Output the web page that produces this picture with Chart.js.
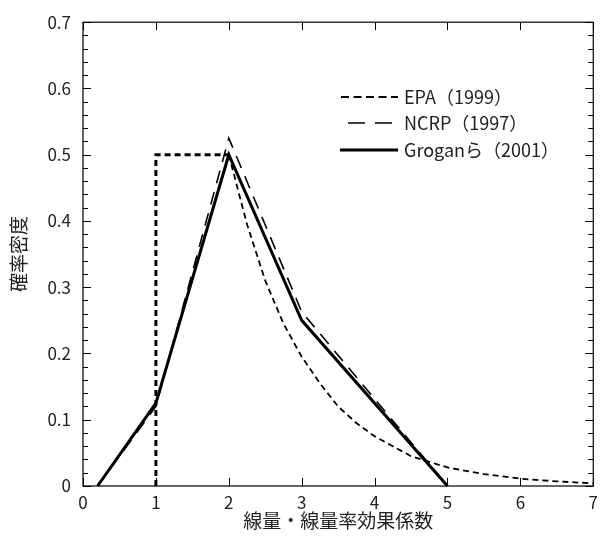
<!DOCTYPE html>
<html lang="ja">
<head>
<meta charset="utf-8">
<script src="https://cdn.jsdelivr.net/npm/chart.js"></script>
<style>
  html, body { margin: 0; padding: 0; background: #fff; }
  #wrap { width: 604px; height: 536px; }
</style>
</head>
<body>
<div id="wrap"><canvas id="pdfChart" width="604" height="536"></canvas></div>
<script>
// values
const epaX = [1, 1, 2, 2.25, 2.5, 2.75, 3, 3.25, 3.5, 3.75, 4, 4.5, 5, 5.5, 6, 6.5, 7];
const epaY = [0, 0.5, 0.5, 0.395, 0.31, 0.245, 0.195, 0.155, 0.12, 0.095, 0.075, 0.045, 0.028, 0.018, 0.011, 0.007, 0.004];
const ncrpX = [0.2, 1, 2, 3, 5];
const ncrpY = [0, 0.12, 0.525, 0.263, 0];
const groganX = [0.2, 1, 2, 3, 5];
const groganY = [0, 0.125, 0.5, 0.25, 0];
const seriesLabels = ['EPA（1999）', 'NCRP（1997）', 'Groganら（2001）'];
const xTicks = [0, 1, 2, 3, 4, 5, 6, 7];
const yTicks = [0, 0.1, 0.2, 0.3, 0.4, 0.5, 0.6, 0.7];

const FONT = "'Noto Sans CJK JP', 'Noto Sans', sans-serif";
const TXT = '#222';

function pts(xs, ys) {
  return xs.map((x, i) => ({ x: x, y: ys[i] }));
}

// inward ticks on all four sides + frame
const frameTicks = {
  id: 'frameTicks',
  afterDatasetsDraw(chart) {
    const { ctx, chartArea: a, scales: { x, y } } = chart;
    ctx.save();
    ctx.strokeStyle = '#000';
    ctx.lineWidth = 1.2;
    ctx.strokeRect(a.left, a.top, a.right - a.left, a.bottom - a.top);
    ctx.lineWidth = 1;
    ctx.beginPath();
    xTicks.forEach(v => {
      const px = Math.round(x.getPixelForValue(v)) + 0.5;
      ctx.moveTo(px, a.bottom); ctx.lineTo(px, a.bottom - 8);
      ctx.moveTo(px, a.top); ctx.lineTo(px, a.top + 8);
    });
    for (let i = 0; i <= 35; i++) {
      const v = i * 0.02;
      const len = i % 5 === 0 ? 8 : 5;
      const py = Math.round(y.getPixelForValue(v)) + 0.5;
      ctx.moveTo(a.left, py); ctx.lineTo(a.left + len, py);
      ctx.moveTo(a.right, py); ctx.lineTo(a.right - len, py);
    }
    ctx.stroke();
    ctx.restore();
  }
};

// legend drawn inside the plot
const innerLegend = {
  id: 'innerLegend',
  afterDraw(chart) {
    const { ctx } = chart;
    const rows = [
      { y: 97, dash: [8, 4.5], w: 1.8, x0: 341, x1: 398 },
      { y: 123, dash: [17, 10], w: 1.6, x0: 348, x1: 392 },
      { y: 150, dash: [], w: 3, x0: 340, x1: 398 }
    ];
    ctx.save();
    rows.forEach((r, i) => {
      ctx.strokeStyle = '#000';
      ctx.lineWidth = r.w;
      ctx.setLineDash(r.dash);
      ctx.beginPath();
      ctx.moveTo(r.x0, r.y); ctx.lineTo(r.x1, r.y);
      ctx.stroke();
      ctx.setLineDash([]);
      ctx.fillStyle = TXT;
      ctx.font = '18px ' + FONT;
      ctx.textBaseline = 'middle';
      ctx.fillText(seriesLabels[i], 404, r.y);
    });
    ctx.restore();
  }
};

new Chart(document.getElementById('pdfChart'), {
  type: 'line',
  data: {
    datasets: [
      {
        label: seriesLabels[0],
        data: pts(epaX, epaY),
        borderColor: '#000',
        borderWidth: 2,
        borderDash: [6, 4],
        segment: { borderWidth: c => (c.p1DataIndex <= 2 ? 3 : 1.8) }
      },
      {
        label: seriesLabels[1],
        data: pts(ncrpX, ncrpY),
        borderColor: '#000',
        borderWidth: 1.6,
        borderDash: [13, 9]
      },
      {
        label: seriesLabels[2],
        data: pts(groganX, groganY),
        borderColor: '#000',
        borderWidth: 3
      }
    ]
  },
  options: {
    responsive: false,
    animation: false,
    clip: 3,
    layout: { padding: { left: 0, top: 16, right: 7, bottom: 0 } },
    elements: { point: { radius: 0 }, line: { tension: 0, fill: false } },
    plugins: { legend: { display: false }, tooltip: { enabled: false } },
    scales: {
      x: {
        type: 'linear',
        min: 0, max: 7,
        afterBuildTicks: s => { s.ticks = xTicks.map(v => ({ value: v })); },
        afterFit: s => { s.height = 50; },
        grid: { display: false, drawTicks: false },
        border: { display: false },
        ticks: { color: TXT, font: { family: FONT, size: 17 }, padding: 6, maxRotation: 0 },
        title: { display: true, text: '線量・線量率効果係数', color: TXT, font: { family: FONT, size: 19 }, padding: { top: 0, bottom: 4 } }
      },
      y: {
        min: 0, max: 0.7,
        afterBuildTicks: s => { s.ticks = yTicks.map(v => ({ value: v })); },
        afterFit: s => { s.width = 83; },
        grid: { display: false, drawTicks: false },
        border: { display: false },
        ticks: { color: TXT, font: { family: FONT, size: 17 }, padding: 12, callback: v => (v === 0 ? '0' : v.toFixed(1)) },
        title: { display: true, text: '確率密度', color: TXT, font: { family: FONT, size: 19 }, padding: { top: 7, bottom: 0 } }
      }
    }
  },
  plugins: [frameTicks, innerLegend]
});
</script>
</body>
</html>
